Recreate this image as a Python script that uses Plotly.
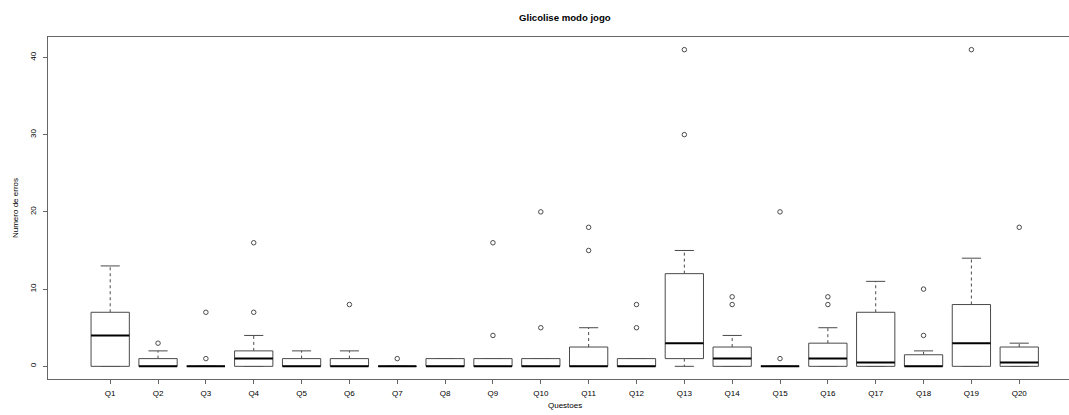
import plotly.graph_objects as go

questions = ["Q1", "Q2", "Q3", "Q4", "Q5", "Q6", "Q7", "Q8", "Q9", "Q10",
             "Q11", "Q12", "Q13", "Q14", "Q15", "Q16", "Q17", "Q18", "Q19", "Q20"]
lower_whisker = [0, 0, 0, 0, 0, 0, 0, 0, 0, 0, 0, 0, 0, 0, 0, 0, 0, 0, 0, 0]
q1 = [0, 0, 0, 0, 0, 0, 0, 0, 0, 0, 0, 0, 1, 0, 0, 0, 0, 0, 0, 0]
median = [4, 0, 0, 1, 0, 0, 0, 0, 0, 0, 0, 0, 3, 1, 0, 1, 0.5, 0, 3, 0.5]
q3 = [7, 1, 0, 2, 1, 1, 0, 1, 1, 1, 2.5, 1, 12, 2.5, 0, 3, 7, 1.5, 8, 2.5]
upper_whisker = [13, 2, 0, 4, 2, 2, 0, 1, 1, 1, 5, 1, 15, 4, 0, 5, 11, 2, 14, 3]
outliers = [[], [3], [1, 7], [7, 16], [], [8], [1], [], [4, 16], [5, 20],
            [15, 18], [5, 8], [30, 41], [8, 9], [1, 20], [8, 9], [], [4, 10], [41], [18]]

BOXW = 0.4     # half box width
CAPW = 0.2     # half staple width
GRAY = "#4a4a4a"

pos = list(range(1, len(questions) + 1))

bx, by, mx, my, wx, wy, cx, cy, ox, oy = [], [], [], [], [], [], [], [], [], []
for i, p in enumerate(pos):
    bx += [p - BOXW, p + BOXW, p + BOXW, p - BOXW, p - BOXW, None]
    by += [q1[i], q1[i], q3[i], q3[i], q1[i], None]
    mx += [p - BOXW, p + BOXW, None]
    my += [median[i], median[i], None]
    wx += [p, p, None, p, p, None]
    wy += [q3[i], upper_whisker[i], None, q1[i], lower_whisker[i], None]
    cx += [p - CAPW, p + CAPW, None, p - CAPW, p + CAPW, None]
    cy += [upper_whisker[i], upper_whisker[i], None, lower_whisker[i], lower_whisker[i], None]
    for v in outliers[i]:
        ox.append(p)
        oy.append(v)

fig = go.Figure()
fig.add_trace(go.Scatter(x=wx, y=wy, mode="lines", line=dict(color=GRAY, width=1, dash="3px,3px"),
                         hoverinfo="skip"))
fig.add_trace(go.Scatter(x=cx, y=cy, mode="lines", line=dict(color=GRAY, width=1), hoverinfo="skip"))
fig.add_trace(go.Scatter(x=bx, y=by, mode="lines", fill="toself", fillcolor="white",
                         line=dict(color=GRAY, width=1), hoverinfo="skip"))
fig.add_trace(go.Scatter(x=mx, y=my, mode="lines", line=dict(color="black", width=2), hoverinfo="skip"))
fig.add_trace(go.Scatter(x=ox, y=oy, mode="markers",
                         marker=dict(symbol="circle-open", size=4.5, color=GRAY, line=dict(width=1))))

FONT = "Liberation Sans, Arial, Helvetica, sans-serif"
fig.update_layout(
    width=1069, height=415,
    margin=dict(l=48, r=0, t=37, b=36),
    paper_bgcolor="white", plot_bgcolor="white",
    showlegend=False,
    font=dict(family=FONT, size=8, color="black"),
    xaxis=dict(range=[-0.3, 21.04], tickmode="array", tickvals=pos, ticktext=questions,
               showgrid=False, zeroline=False, showline=True, linecolor="#666", linewidth=1,
               mirror=True, ticks="outside", ticklen=4, tickcolor="#666",
               tickfont=dict(size=8, color="black"), ticklabelstandoff=2),
    yaxis=dict(range=[-1.64, 42.64], tickmode="array", tickvals=[0, 10, 20, 30, 40],
               showgrid=False, zeroline=False, showline=True, linecolor="#666", linewidth=1,
               ticks="outside", ticklen=4, tickcolor="#666", tickangle=-90,
               tickfont=dict(size=8, color="black"), ticklabelstandoff=4),
    annotations=[
        dict(text="<b>Glicolise modo jogo</b>", xref="paper", yref="paper", x=0.506, y=1.0556,
             xanchor="center", yanchor="middle", showarrow=False,
             font=dict(size=9.6, color="black")),
        dict(text="Questoes", xref="paper", yref="paper", x=0.506, y=-0.0784,
             xanchor="center", yanchor="middle", showarrow=False,
             font=dict(size=8, color="black")),
        dict(text="Numero de erros", xref="paper", yref="paper", x=-0.0323, y=0.5,
             xanchor="center", yanchor="middle", textangle=-90, showarrow=False,
             font=dict(size=8, color="black")),
    ],
)

fig.write_html("out.html")
